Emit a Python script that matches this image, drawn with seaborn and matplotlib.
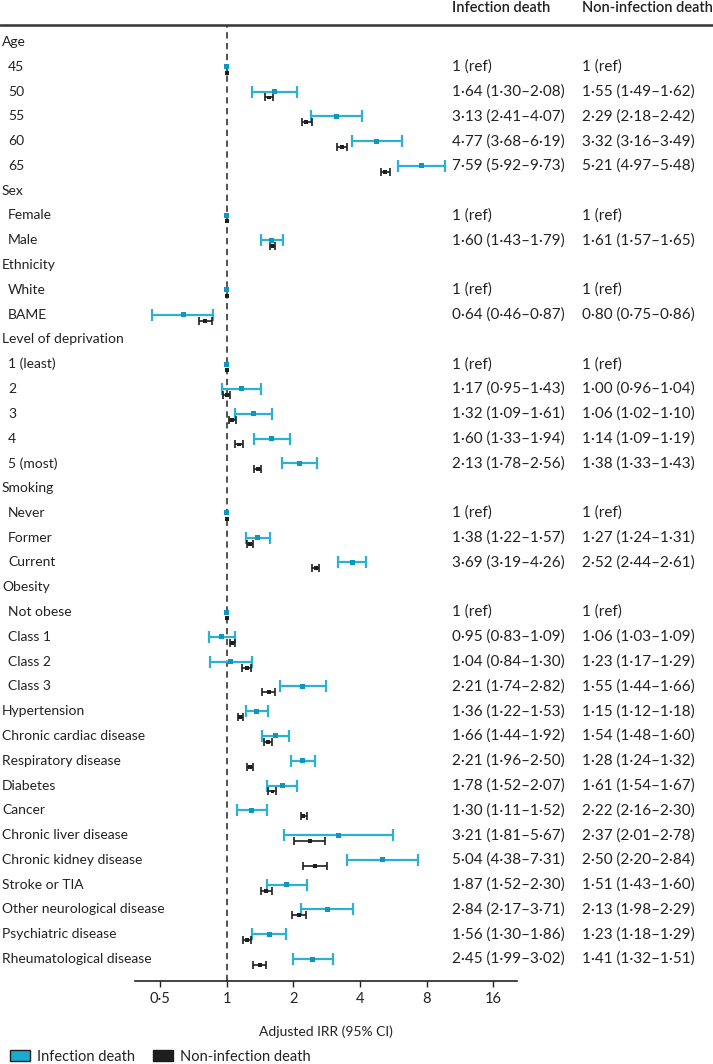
import numpy as np
import pandas as pd
import matplotlib
matplotlib.use("Agg")
import matplotlib.pyplot as plt
import seaborn as sns
from matplotlib.lines import Line2D
from matplotlib.patches import Patch
from matplotlib.transforms import blended_transform_factory

# rows, top to bottom; headers have no estimate
labels = [
    "Age", "45", "50", "55", "60", "65",
    "Sex", "Female", "Male",
    "Ethnicity", "White", "BAME",
    "Level of deprivation", "1 (least)", "2", "3", "4", "5 (most)",
    "Smoking", "Never", "Former", "Current",
    "Obesity", "Not obese", "Class 1", "Class 2", "Class 3",
    "Hypertension", "Chronic cardiac disease", "Respiratory disease", "Diabetes",
    "Cancer", "Chronic liver disease", "Chronic kidney disease", "Stroke or TIA",
    "Other neurological disease", "Psychiatric disease", "Rheumatological disease",
]
indented = [
    0, 1, 1, 1, 1, 1,
    0, 1, 1,
    0, 1, 1,
    0, 1, 1, 1, 1, 1,
    0, 1, 1, 1,
    0, 1, 1, 1, 1,
    0, 0, 0, 0, 0, 0, 0, 0, 0, 0, 0,
]
N = np.nan
inf_est = [N, 1, 1.64, 3.13, 4.77, 7.59, N, 1, 1.60, N, 1, 0.64,
           N, 1, 1.17, 1.32, 1.60, 2.13, N, 1, 1.38, 3.69,
           N, 1, 0.95, 1.04, 2.21,
           1.36, 1.66, 2.21, 1.78, 1.30, 3.21, 5.04, 1.87, 2.84, 1.56, 2.45]
inf_lo = [N, 1, 1.30, 2.41, 3.68, 5.92, N, 1, 1.43, N, 1, 0.46,
          N, 1, 0.95, 1.09, 1.33, 1.78, N, 1, 1.22, 3.19,
          N, 1, 0.83, 0.84, 1.74,
          1.22, 1.44, 1.96, 1.52, 1.11, 1.81, 3.48, 1.52, 2.17, 1.30, 1.99]
inf_hi = [N, 1, 2.08, 4.07, 6.19, 9.73, N, 1, 1.79, N, 1, 0.87,
          N, 1, 1.43, 1.61, 1.94, 2.56, N, 1, 1.57, 4.26,
          N, 1, 1.09, 1.30, 2.82,
          1.53, 1.92, 2.50, 2.07, 1.52, 5.67, 7.31, 2.30, 3.71, 1.86, 3.02]
non_est = [N, 1, 1.55, 2.29, 3.32, 5.21, N, 1, 1.61, N, 1, 0.80,
           N, 1, 1.00, 1.06, 1.14, 1.38, N, 1, 1.27, 2.52,
           N, 1, 1.06, 1.23, 1.55,
           1.15, 1.54, 1.28, 1.61, 2.22, 2.37, 2.50, 1.51, 2.13, 1.23, 1.41]
non_lo = [N, 1, 1.49, 2.18, 3.16, 4.97, N, 1, 1.57, N, 1, 0.75,
          N, 1, 0.96, 1.02, 1.09, 1.33, N, 1, 1.24, 2.44,
          N, 1, 1.03, 1.17, 1.44,
          1.12, 1.48, 1.24, 1.54, 2.16, 2.01, 2.20, 1.43, 1.98, 1.18, 1.32]
non_hi = [N, 1, 1.62, 2.42, 3.49, 5.48, N, 1, 1.65, N, 1, 0.86,
          N, 1, 1.04, 1.10, 1.19, 1.43, N, 1, 1.31, 2.61,
          N, 1, 1.09, 1.29, 1.66,
          1.18, 1.60, 1.32, 1.67, 2.30, 2.78, 2.84, 1.60, 2.29, 1.29, 1.51]

inf_text = ["", "1 (ref)", "1·64 (1·30–2·08)", "3·13 (2·41–4·07)", "4·77 (3·68–6·19)", "7·59 (5·92–9·73)",
            "", "1 (ref)", "1·60 (1·43–1·79)", "", "1 (ref)", "0·64 (0·46–0·87)",
            "", "1 (ref)", "1·17 (0·95–1·43)", "1·32 (1·09–1·61)", "1·60 (1·33–1·94)", "2·13 (1·78–2·56)",
            "", "1 (ref)", "1·38 (1·22–1·57)", "3·69 (3·19–4·26)",
            "", "1 (ref)", "0·95 (0·83–1·09)", "1·04 (0·84–1·30)", "2·21 (1·74–2·82)",
            "1·36 (1·22–1·53)", "1·66 (1·44–1·92)", "2·21 (1·96–2·50)", "1·78 (1·52–2·07)",
            "1·30 (1·11–1·52)", "3·21 (1·81–5·67)", "5·04 (4·38–7·31)", "1·87 (1·52–2·30)",
            "2·84 (2·17–3·71)", "1·56 (1·30–1·86)", "2·45 (1·99–3·02)"]
non_text = ["", "1 (ref)", "1·55 (1·49–1·62)", "2·29 (2·18–2·42)", "3·32 (3·16–3·49)", "5·21 (4·97–5·48)",
            "", "1 (ref)", "1·61 (1·57–1·65)", "", "1 (ref)", "0·80 (0·75–0·86)",
            "", "1 (ref)", "1·00 (0·96–1·04)", "1·06 (1·02–1·10)", "1·14 (1·09–1·19)", "1·38 (1·33–1·43)",
            "", "1 (ref)", "1·27 (1·24–1·31)", "2·52 (2·44–2·61)",
            "", "1 (ref)", "1·06 (1·03–1·09)", "1·23 (1·17–1·29)", "1·55 (1·44–1·66)",
            "1·15 (1·12–1·18)", "1·54 (1·48–1·60)", "1·28 (1·24–1·32)", "1·61 (1·54–1·67)",
            "2·22 (2·16–2·30)", "2·37 (2·01–2·78)", "2·50 (2·20–2·84)", "1·51 (1·43–1·60)",
            "2·13 (1·98–2·29)", "1·23 (1·18–1·29)", "1·41 (1·32–1·51)"]

ticks = [0.5, 1, 2, 4, 8, 16]
tick_labels = ["0·5", "1", "2", "4", "8", "16"]

BLUE_LINE = "#2cb0d6"
BLUE_MARK = "#0d97c0"
BLACK = "#1e1e1e"
TXT = "#222222"

sns.set_theme(style="white")
plt.rcParams["font.family"] = ["Lato", "DejaVu Sans"]
plt.rcParams["font.size"] = 10

W, H = 713, 1064
fig = plt.figure(figsize=(W / 100, H / 100), dpi=100)
ax = fig.add_axes([135 / W, 1 - 981 / H, (517 - 135) / W, (981 - 25) / H])

rows = np.arange(len(labels))
off = 0.24  # black series sits a little below the blue one

df = pd.DataFrame({
    "row": np.concatenate([rows, rows + off]),
    "est": np.concatenate([inf_est, non_est]),
    "lo": np.concatenate([inf_lo, non_lo]),
    "hi": np.concatenate([inf_hi, non_hi]),
    "series": ["Infection death"] * len(rows) + ["Non-infection death"] * len(rows),
}).dropna()

# CI bars
for name, col, lw, cap in [("Infection death", BLUE_LINE, 1.6, 4.5),
                           ("Non-infection death", BLACK, 1.2, 3.0)]:
    d = df[(df.series == name) & (df.hi > df.lo)]
    ax.errorbar(d.est, d.row, xerr=[d.est - d.lo, d.hi - d.est], fmt="none",
                ecolor=col, elinewidth=lw, capsize=cap, capthick=lw, zorder=3)

sns.scatterplot(data=df, x="est", y="row", hue="series", size="series", marker="s",
                palette={"Infection death": BLUE_MARK, "Non-infection death": BLACK},
                sizes={"Infection death": 13, "Non-infection death": 8},
                linewidth=0, legend=False, ax=ax, zorder=4)

ax.axvline(1, color="#444444", lw=1.3, ls=(0, (3.5, 2.5)), zorder=1)

ax.set_xscale("log", base=2)
ax.set_xlim(0.385, 20.5)
ax.set_ylim(len(labels) - 1 + 0.887, -0.685)
ax.set_xticks(ticks)
ax.set_xticklabels(tick_labels, fontsize=10.5, color=TXT)
ax.xaxis.set_minor_locator(matplotlib.ticker.NullLocator())
ax.tick_params(axis="x", direction="out", length=4, width=1, color=TXT,
               bottom=True, pad=4)
ax.set_yticks([])
ax.set_ylabel("")
ax.set_xlabel("Adjusted IRR (95% CI)", fontsize=10, color=TXT, labelpad=14)
for s in ["top", "left", "right"]:
    ax.spines[s].set_visible(False)
ax.spines["bottom"].set_color(TXT)
ax.spines["bottom"].set_linewidth(1.2)

# row labels and text columns
tr = blended_transform_factory(fig.transFigure, ax.transData)
for i, lab in enumerate(labels):
    x0 = (8 if indented[i] else 2) / W
    ax.text(x0, i, lab, transform=tr, ha="left", va="center", fontsize=10, color=TXT)
    ax.text(452 / W, i, inf_text[i], transform=tr, ha="left", va="center", fontsize=11, color=TXT)
    ax.text(582 / W, i, non_text[i], transform=tr, ha="left", va="center", fontsize=11, color=TXT)

fig.text(452 / W, 1 - 8 / H, "Infection death", ha="left", va="center",
         fontsize=10.5, fontweight="semibold", color=TXT)
fig.text(582 / W, 1 - 8 / H, "Non-infection death", ha="left", va="center",
         fontsize=10.5, fontweight="semibold", color=TXT)
fig.add_artist(Line2D([0, 1], [1 - 25 / H, 1 - 25 / H], transform=fig.transFigure,
                      color="#333333", lw=1.8))

handles = [Patch(facecolor="#1aaad2", edgecolor=BLACK, lw=1, label="Infection death"),
           Patch(facecolor=BLACK, edgecolor=BLACK, lw=1, label="Non-infection death")]
fig.legend(handles=handles, loc="lower left", bbox_to_anchor=(-0.005, -0.012), ncol=2,
           frameon=False, fontsize=10.5, handlelength=1.4, handleheight=0.7,
           handletextpad=0.5, columnspacing=1.2, labelcolor=TXT)

fig.savefig("out.png", dpi=100)
